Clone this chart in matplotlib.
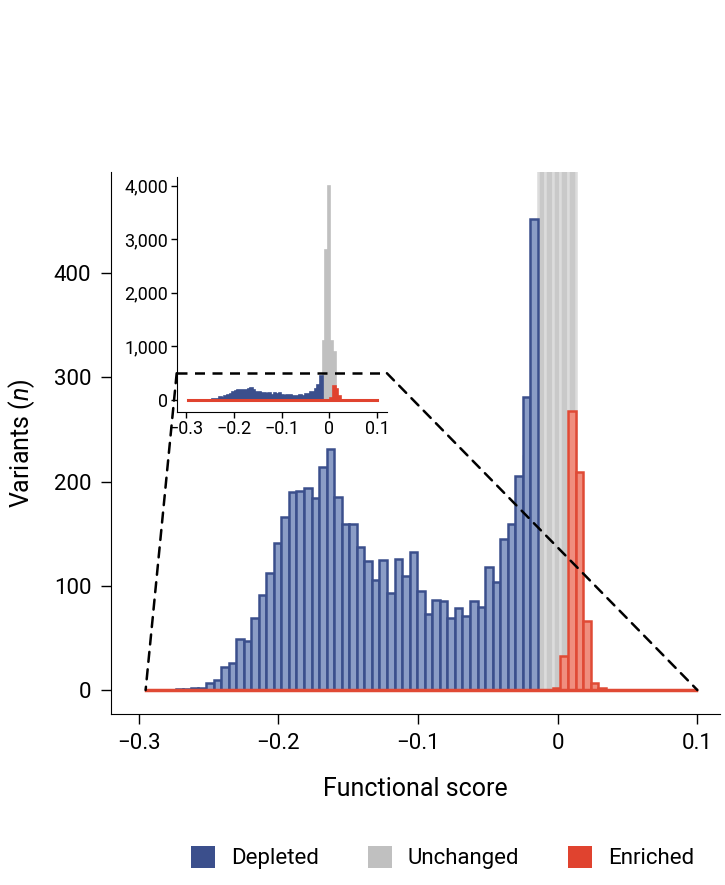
"""Histogram of functional scores split into depleted / unchanged / enriched
"""

import numpy as np
import matplotlib
matplotlib.use('Agg')
import matplotlib.pyplot as plt
from matplotlib.patches import ConnectionPatch, Patch
from matplotlib.ticker import FuncFormatter

plt.rcParams['font.family'] = 'Roboto'
plt.rcParams['mathtext.fontset'] = 'custom'
plt.rcParams['mathtext.it'] = 'Roboto:italic'
plt.rcParams['mathtext.rm'] = 'Roboto'

# bins
bin_start = -0.295
bin_width = 0.0054
n_bins = 73

# counts per bin (index into the bins above)
depleted_start = 4
depleted = [1, 1, 2, 2, 7, 10, 22, 26, 49, 47, 69, 91, 112, 141, 166, 190, 191,
            194, 184, 214, 231, 185, 159, 159, 137, 124, 106, 125, 93, 126, 109,
            132, 95, 73, 86, 85, 69, 79, 71, 85, 80, 118, 104, 145, 159, 205,
            281, 452]
unchanged_start = 47
unchanged = [2, 5, 46, 225, 257, 1100, 2800, 4000, 1100, 900, 15, 5]
enriched_start = 54
enriched = [2, 33, 268, 209, 66, 7, 2]

depleted_color = ('#8b9dc6', '#3b4f8c', '#3b4f8c')   # face, edge, inset fill
unchanged_color = ('#c9c9c9', '#dcdcdc', '#c0c0c0')
enriched_color = ('#f08e7e', '#e04a35', '#e0432f')


def full_counts(values, start):
    counts = np.zeros(n_bins)
    counts[start:start + len(values)] = values
    return counts


edges = bin_start + bin_width * np.arange(n_bins + 1)
series = [
    (full_counts(unchanged, unchanged_start), unchanged_color),
    (full_counts(depleted, depleted_start), depleted_color),
    (full_counts(enriched, enriched_start), enriched_color),
]

fig = plt.figure(figsize=(7.25, 8.85), dpi=100)
ax = fig.add_axes([0.1527, 0.1932, 0.84, 0.6124])

for counts, (face, edge, _) in series:
    ax.bar(edges[:-1], counts, width=bin_width, align='edge',
           facecolor=face, edgecolor=edge, linewidth=1.8)
ax.plot(edges[[0, -1]], [0, 0], color=enriched_color[1], lw=2.5)

ax.set_xlim(-0.32, 0.116)
ax.set_ylim(-23, 497)
ax.set_xticks([-0.3, -0.2, -0.1, 0, 0.1])
ax.set_xticklabels(['\u22120.3', '\u22120.2', '\u22120.1', '0', '0.1'])
ax.set_yticks([0, 100, 200, 300, 400])
for side in ['top', 'right']:
    ax.spines[side].set_visible(False)
ax.tick_params(labelsize=16, length=7, width=1, pad=7)
ax.set_xlabel('Functional score', fontsize=18, labelpad=16)
ax.set_ylabel(r'Variants ($\it{n}$)', fontsize=18, labelpad=12)

# inset with full range
inset = fig.add_axes([0.2437, 0.5348, 0.290, 0.2655])
inset.patch.set_alpha(0)
for counts, (_, _, fill) in series:
    inset.stairs(counts, edges, fill=True, facecolor=fill, edgecolor=fill,
                 linewidth=1.2)
inset.plot(edges[[0, -1]], [0, 0], color=enriched_color[2], lw=2.2)
inset.set_xlim(-0.3194, 0.1203)
inset.set_ylim(-218, 4167)
inset.set_xticks([-0.3, -0.2, -0.1, 0, 0.1])
inset.set_xticklabels(['\u22120.3', '\u22120.2', '\u22120.1', '0', '0.1'])
inset.set_yticks([0, 1000, 2000, 3000, 4000])
inset.yaxis.set_major_formatter(FuncFormatter(lambda v, p: f'{int(v):,}'))
for side in ['top', 'right']:
    inset.spines[side].set_visible(False)
inset.tick_params(labelsize=13, length=4, width=1, pad=2)

# zoom box + connectors
dash = (0, (4, 3))
x0, x1 = inset.get_xlim()
inset.plot([x0, x1], [500, 500], color='black', lw=1.8, ls=dash, clip_on=False)
for xa, xb in [(x0, bin_start), (x1, 0.1)]:
    con = ConnectionPatch(xyA=(xa, 500), coordsA=inset.transData,
                          xyB=(xb, 0), coordsB=ax.transData,
                          color='black', lw=1.8, linestyle=dash)
    fig.add_artist(con)

handles = [Patch(facecolor=depleted_color[1]), Patch(facecolor=unchanged_color[2]),
           Patch(facecolor=enriched_color[2])]
fig.legend(handles, ['Depleted', 'Unchanged', 'Enriched'], ncol=3,
           loc='lower right', bbox_to_anchor=(0.985, -0.005), frameon=False,
           fontsize=16, handlelength=1.1, handleheight=1.1,
           columnspacing=2.2, handletextpad=0.7)

fig.savefig('out.png', dpi=100)
